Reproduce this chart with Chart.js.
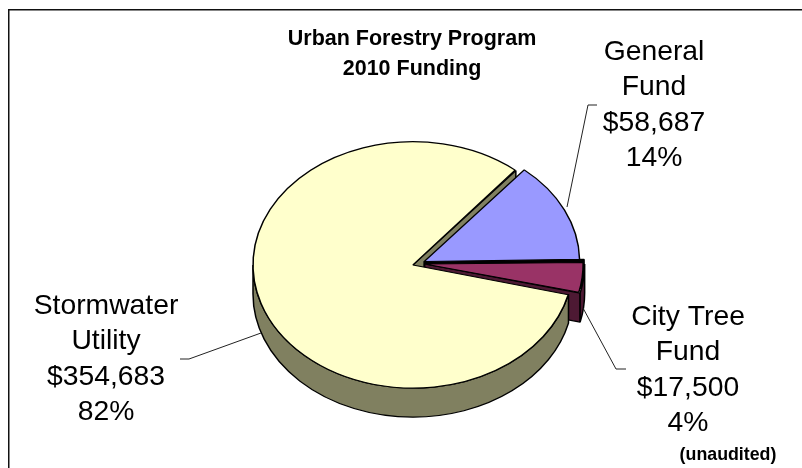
<!DOCTYPE html>
<html>
<head>
<meta charset="utf-8">
<title>Urban Forestry Program</title>
<script src="https://cdn.jsdelivr.net/npm/chart.js@4"></script>
<style>
  html, body { margin: 0; padding: 0; background: #fff; }
  canvas { display: block; }
</style>
</head>
<body>
<canvas id="chart" width="802" height="468"></canvas>
<script>
// data, in the order the slices go round clockwise
const categories = ['General Fund', 'City Tree Fund', 'Stormwater Utility'];
const amounts = [58687, 17500, 354683];
const faceColors = ['#9999FF', '#993366', '#FFFFCC'];
const sideColors = ['#000000', '#4D1933', '#808060'];

const titleLines = ['Urban Forestry Program', '2010 Funding'];
const labelLines = [
    ['General', 'Fund', '$58,687', '14%'],
    ['City Tree', 'Fund', '$17,500', '4%'],
    ['Stormwater', 'Utility', '$354,683', '82%']
];
const labelSpots = [[654, 52], [688, 317], [106, 306]];
const leaders = [
    [[597, 105], [588, 105], [567, 207]],
    [[626, 369], [616, 369], [583, 308]],
    [[180, 359], [189, 359], [261, 333]]
];
const note = '(unaudited)';

const squash = 0.77;
const depth = 29;
const font = '"Liberation Sans", Arial, sans-serif';

function sliceGeometry(el) {
    const p = el.getProps(['x', 'y', 'startAngle', 'endAngle', 'outerRadius'], true);
    const off = el.options.offset / 4;
    const mid = (p.startAngle + p.endAngle) / 2;
    return {
        cx: p.x + Math.cos(mid) * off,
        cy: p.y + Math.sin(mid) * off,
        r: p.outerRadius + off,
        a0: p.startAngle,
        a1: p.endAngle
    };
}

// the flat side at the end of a slice (the one at the start faces away)
function drawCut(ctx, g, color, drop) {
    const ex = g.cx + Math.cos(g.a1) * g.r;
    const ey = g.cy + Math.sin(g.a1) * g.r;
    ctx.beginPath();
    ctx.moveTo(g.cx, g.cy);
    ctx.lineTo(ex, ey);
    ctx.lineTo(ex, ey + drop);
    ctx.lineTo(g.cx, g.cy + drop);
    ctx.closePath();
    ctx.fillStyle = color;
    ctx.fill();
    ctx.stroke();
}

// the round side, only the part facing the viewer
function drawRim(ctx, g, color, drop) {
    const from = Math.max(g.a0, 0);
    const to = Math.min(g.a1, Math.PI);
    if (to <= from) return;
    ctx.beginPath();
    ctx.arc(g.cx, g.cy, g.r, from, to);
    ctx.arc(g.cx, g.cy + drop, g.r, to, from, true);
    ctx.closePath();
    ctx.fillStyle = color;
    ctx.fill();
    ctx.stroke();
}

const pie3d = {
    id: 'pie3d',
    beforeDraw(chart) {
        const ctx = chart.ctx;
        ctx.save();
        ctx.fillStyle = '#fff';
        ctx.fillRect(0, 0, chart.width, chart.height);
        ctx.fillStyle = '#111';
        ctx.fillRect(8, 9, chart.width - 8, 1.5);
        ctx.fillRect(8, 9, 1.5, chart.height - 9);
        ctx.restore();
    },
    beforeDatasetsDraw(chart) {
        const ctx = chart.ctx;
        const arcs = chart.getDatasetMeta(0).data;
        const geo = arcs.map(sliceGeometry);
        const midY = arcs[0].y;
        const drop = depth / squash;
        ctx.save();
        ctx.translate(0, midY);
        ctx.scale(1, squash);
        ctx.translate(0, -midY);
        ctx.lineWidth = 1.5;
        ctx.strokeStyle = '#000';
        ctx.lineJoin = 'bevel';
        drawCut(ctx, geo[2], sideColors[2], drop);
        drawCut(ctx, geo[0], sideColors[0], drop);
        drawCut(ctx, geo[1], sideColors[1], drop);
        geo.forEach((g, i) => drawRim(ctx, g, sideColors[i], drop));
    },
    afterDatasetsDraw(chart) {
        chart.ctx.restore();
    },
    afterDraw(chart) {
        const ctx = chart.ctx;
        ctx.save();
        ctx.strokeStyle = '#222';
        ctx.lineWidth = 1;
        leaders.forEach(pts => {
            ctx.beginPath();
            pts.forEach((pt, i) => i ? ctx.lineTo(pt[0], pt[1]) : ctx.moveTo(pt[0], pt[1]));
            ctx.stroke();
        });
        ctx.fillStyle = '#000';
        ctx.textAlign = 'center';
        ctx.textBaseline = 'middle';
        ctx.font = 'bold 21.5px ' + font;
        titleLines.forEach((t, i) => ctx.fillText(t, 412, 39 + i * 30));
        ctx.font = '28.3px ' + font;
        labelLines.forEach((lines, n) => {
            lines.forEach((t, i) => ctx.fillText(t, labelSpots[n][0], labelSpots[n][1] + i * 35.5));
        });
        ctx.font = 'bold 17.8px ' + font;
        ctx.fillText(note, 728, 455);
        ctx.restore();
    }
};

new Chart(document.getElementById('chart'), {
    type: 'pie',
    data: {
        labels: categories,
        datasets: [{
            data: amounts,
            backgroundColor: faceColors,
            borderColor: '#000',
            borderWidth: 1.5,
            borderJoinStyle: 'bevel',
            offset: 24,
            clip: false
        }]
    },
    options: {
        responsive: false,
        animation: false,
        rotation: 40,
        radius: 154,
        layout: { padding: { left: 35.4, top: 59 } },
        plugins: { legend: { display: false }, tooltip: { enabled: false } }
    },
    plugins: [pie3d]
});
</script>
</body>
</html>
